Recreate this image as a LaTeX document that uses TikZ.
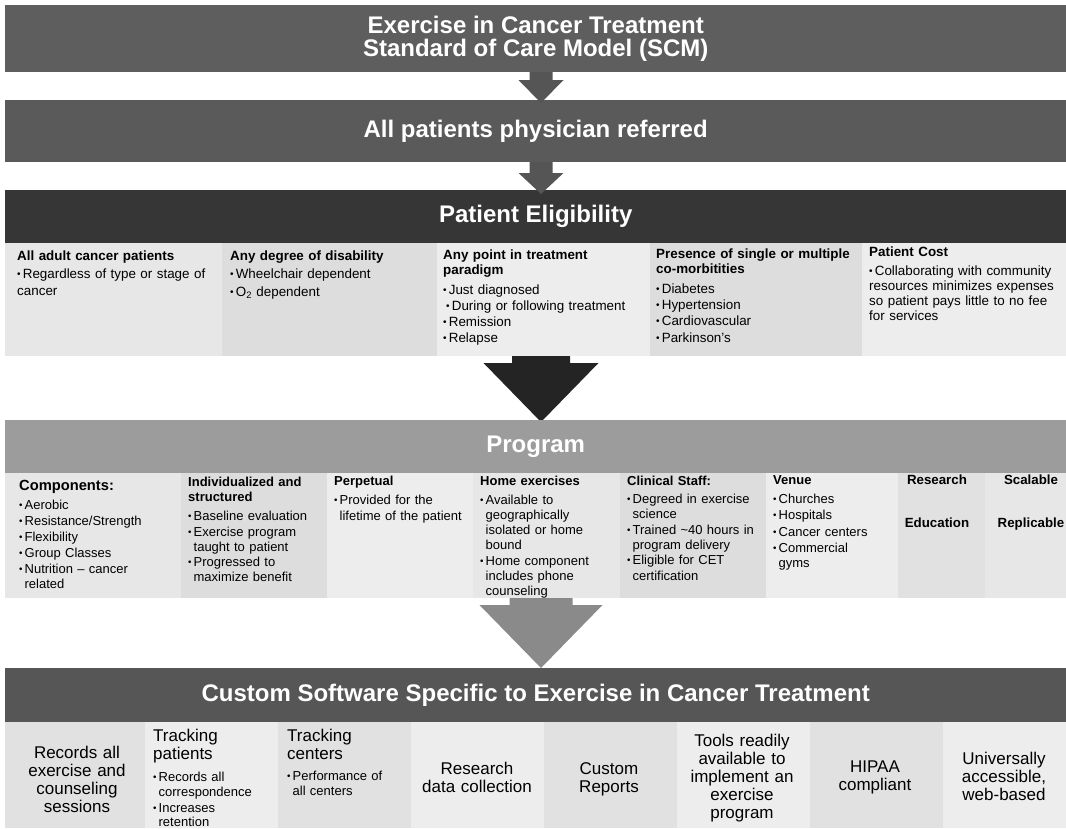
\documentclass[tikz,border=0pt]{standalone}
\usepackage{fontspec}
\setmainfont{Liberation Sans}
\usetikzlibrary{calc}
\definecolor{cBanA}{HTML}{5E5E5E}
\definecolor{cBanB}{HTML}{5A5A5A}
\definecolor{cBanC}{HTML}{363636}
\definecolor{cBanD}{HTML}{9C9C9C}
\definecolor{cBanE}{HTML}{565656}
\definecolor{cArrA}{HTML}{555555}
\definecolor{cArrB}{HTML}{242424}
\definecolor{cArrC}{HTML}{8A8A8A}
\definecolor{cCellA}{HTML}{E7E7E7}
\definecolor{cCellB}{HTML}{DDDDDD}
\definecolor{cCellC}{HTML}{EDEDED}
\definecolor{cCellD}{HTML}{E1E1E1}
\newcommand\bul{\makebox[0.42em][l]{\raisebox{0.12ex}{\scalebox{0.75}{\textbullet}}}}
\newcommand\ind{\hspace*{0.42em}}
% block arrow: colour, x centre, top y, head top y, tip y, shaft half width, head half width
\newcommand\blockarrow[7]{\fill[#1] (#2-#6,#3) -- (#2+#6,#3) -- (#2+#6,#4) -- (#2+#7,#4) -- (#2,#5) -- (#2-#7,#4) -- (#2-#6,#4) -- cycle;}
\begin{document}
\begin{tikzpicture}[x=1pt,y=-1pt,
  banner/.style={anchor=north west, inner sep=0pt, minimum width=1061pt, text=white,
    font=\fontsize{24}{23}\selectfont\bfseries, align=center},
  cellE/.style={anchor=base west, inner sep=0pt, text width=215pt, align=left,
    font=\fontsize{13.4}{15}\selectfont},
  cellP/.style={anchor=base west, inner sep=0pt, text width=160pt, align=left,
    font=\fontsize{13}{15}\selectfont},
  headP/.style={anchor=base, inner sep=0pt, font=\fontsize{13.3}{15}\selectfont\bfseries},
  cellS/.style={anchor=base, inner sep=0pt, text width=135pt, align=center,
    font=\fontsize{17}{18}\selectfont},
  titleS/.style={anchor=base west, inner sep=0pt, text width=130pt, align=left,
    font=\fontsize{17}{18}\selectfont},
  smallS/.style={anchor=base west, inner sep=0pt, text width=130pt, align=left,
    font=\fontsize{13}{14.5}\selectfont}]
\useasboundingbox (0,0) rectangle (1066,828);
\fill[white] (0,0) rectangle (1066,828);

% ---------- banners ----------
\node[banner, fill=cBanA, minimum height=67pt] (b1) at (5,5)
  {Exercise in Cancer Treatment\\Standard of Care Model (SCM)};
\node[banner, fill=cBanB, minimum height=62pt] (b2) at (5,100)
  {All patients physician referred};
\node[banner, fill=cBanC, minimum height=53pt] (b3) at (5,190)
  {Patient Eligibility};

% ---------- eligibility cells ----------
\fill[cCellA] (5,243) rectangle (222,356);
\fill[cCellB] (222,243) rectangle (437,356);
\fill[cCellC] (437,243) rectangle (650,356);
\fill[cCellB] (650,243) rectangle (862,356);
\fill[cCellC] (862,243) rectangle (1066,356);

\node[cellE] (e1) at (17,260.5) {{\bfseries All adult cancer patients}\\[3pt]
  \bul Regardless of type or stage of\\[2pt]cancer};
\node[cellE] (e2) at (230,260.5) {{\bfseries Any degree of disability}\\[3pt]
  \bul Wheelchair dependent\\[3pt]\bul O\textsubscript{2} dependent};
\node[cellE] (e3) at (443,259.5) {{\bfseries Any point in treatment}\\{\bfseries paradigm}\\[5pt]
  \bul Just diagnosed\\[1pt]\hspace*{3pt}\bul During or following treatment\\[1pt]
  \bul Remission\\[1pt]\bul Relapse};
\node[cellE] (e4) at (656,258.5) {{\bfseries Presence of single or multiple}\\{\bfseries co-morbitities}\\[5pt]
  \bul Diabetes\\[1pt]\bul Hypertension\\[1pt]\bul Cardiovascular\\[1.5pt]\bul Parkinson's};
\node[cellE] (e5) at (869,256.5) {{\bfseries Patient Cost}\\[4pt]
  \bul Collaborating with community\\resources minimizes expenses\\so patient pays little to no fee\\for services};

\blockarrow{cArrA}{541}{72}{80}{103}{11.5}{22.5}
\blockarrow{cArrA}{541}{162}{173}{194}{11.5}{22.5}
\blockarrow{cArrB}{541}{356}{363}{422}{29}{57.5}

% ---------- program ----------
\node[banner, fill=cBanD, minimum height=53pt] (b4) at (5,420) {Program};

\fill[cCellA] (5,473) rectangle (181,598);
\fill[cCellB] (181,473) rectangle (327,598);
\fill[cCellC] (327,473) rectangle (473,598);
\fill[cCellA] (473,473) rectangle (620,598);
\fill[cCellB] (620,473) rectangle (766,598);
\fill[cCellC] (766,473) rectangle (898,598);
\fill[cCellD] (898,473) rectangle (985,598);
\fill[cCellA] (985,473) rectangle (1066,598);

\node[cellP] (p1) at (19,490.5) {{\fontsize{14.7}{15}\selectfont\bfseries Components:}\\[4pt]
  \bul Aerobic\\[1pt]\bul Resistance/Strength\\[1pt]\bul Flexibility\\[1pt]\bul Group Classes\\[1pt]
  \bul Nutrition -- cancer\\\ind related};
\node[cellP] (p2) at (188,486.5) {{\bfseries Individualized and}\\{\bfseries structured}\\[4pt]
  \bul Baseline evaluation\\[1pt]\bul Exercise program\\\ind taught to patient\\
  \bul Progressed to\\\ind maximize benefit};
\node[cellP] (p3) at (334,485.5) {{\bfseries Perpetual}\\[4pt]
  \bul Provided for the\\[1pt]\ind lifetime of the patient};
\node[cellP] (p4) at (480,485.5) {{\bfseries Home exercises}\\[4pt]
  \bul Available to\\\ind geographically\\\ind isolated or home\\\ind bound\\[1pt]
  \bul Home component\\\ind includes phone\\\ind counseling};
\node[cellP] (p5) at (627,485.5) {{\bfseries Clinical Staff:}\\[3pt]
  \bul Degreed in exercise\\\ind science\\[1pt]\bul Trained \textasciitilde40 hours in\\\ind program delivery\\
  \bul Eligible for CET\\[1pt]\ind certification};
\node[cellP] (p6) at (773,484.5) {{\bfseries Venue}\\[4pt]
  \bul Churches\\[1pt]\bul Hospitals\\[2pt]\bul Cancer centers\\[1pt]\bul Commercial\\\ind gyms};
\node[headP] (p7a) at (937,484.5) {Research};
\node[headP] (p7b) at (937,527.5) {Education};
\node[headP] (p8a) at (1031,484.5) {Scalable};
\node[headP] (p8b) at (1031,527.5) {Replicable};

\blockarrow{cArrC}{541}{598}{605}{668}{31.5}{61.5}

% ---------- software ----------
\node[banner, fill=cBanE, minimum height=54pt] (b5) at (5,668)
  {Custom Software Specific to Exercise in Cancer Treatment};

\fill[cCellD] (5,722) rectangle (145,828);
\fill[cCellC] (145,722) rectangle (278,828);
\fill[cCellD] (278,722) rectangle (411,828);
\fill[cCellC] (411,722) rectangle (544,828);
\fill[cCellD] (544,722) rectangle (677,828);
\fill[cCellC] (677,722) rectangle (810,828);
\fill[cCellD] (810,722) rectangle (943,828);
\fill[cCellC] (943,722) rectangle (1066,828);

\node[cellS] (s1) at (77,758) {Records all\\exercise and\\counseling\\sessions};
\node[titleS] (s2t) at (153,741) {Tracking\\patients};
\node[smallS] (s2b) at (153,781.5) {\bul Records all\\\ind correspondence\\[1.5pt]\bul Increases\\\ind retention};
\node[titleS] (s3t) at (287,741) {Tracking\\centers};
\node[smallS] (s3b) at (287,780.5) {\bul Performance of\\\ind all centers};
\node[cellS] (s4) at (477,774) {Research\\data collection};
\node[cellS] (s5) at (609,774) {Custom\\Reports};
\node[cellS] (s6) at (742,746) {Tools readily\\available to\\implement an\\exercise\\program};
\node[cellS] (s7) at (875,772) {HIPAA\\compliant};
\node[cellS] (s8) at (1004,764) {Universally\\accessible,\\web-based};
\end{tikzpicture}
\end{document}
